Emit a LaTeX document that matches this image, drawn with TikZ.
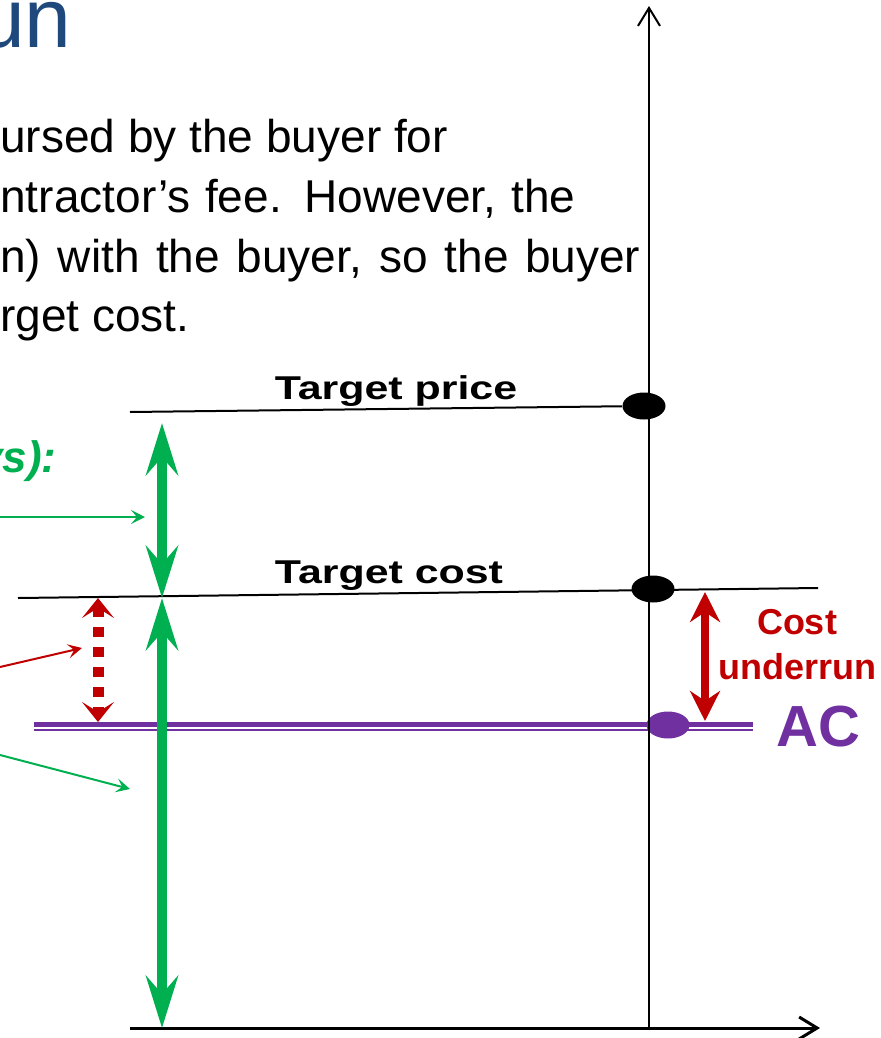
\documentclass[tikz,border=0pt]{standalone}
\usepackage{fontspec}
\setmainfont{Liberation Sans}
\usepackage{xcolor}
\usetikzlibrary{arrows.meta, shapes.geometric}
\definecolor{titleblue}{RGB}{31,73,125}
\definecolor{feegreen}{RGB}{0,176,80}
\definecolor{runred}{RGB}{192,0,0}
\definecolor{acpurple}{RGB}{112,48,160}

\begin{document}
\begin{tikzpicture}[
  x=0.5pt, y=-0.5pt,
  body/.style={anchor=base west, inner sep=0pt, font=\fontsize{23}{27}\selectfont},
  lvl/.style={anchor=base, inner sep=0pt, font=\bfseries\fontsize{16.5}{19}\selectfont},
  dot/.style={ellipse, fill=#1, minimum width=21.5pt, minimum height=13.5pt, inner sep=0pt},
  axis/.style={-{Straight Barb[length=9pt, width=11pt]}, line width=#1},
  level/.style={line width=1pt},
  big/.style={{Stealth[length=26pt, width=16pt, inset=9pt]}-{Stealth[length=26pt, width=16pt, inset=9pt]},
    draw=feegreen, line width=5pt},
  gap/.style={{Stealth[length=15pt, width=15pt, inset=5pt]}-{Stealth[length=15pt, width=15pt, inset=5pt]},
    draw=runred, line width=4pt},
  dotgap/.style={{Stealth[length=10pt, width=16pt, inset=5pt]}-{Stealth[length=10pt, width=16pt, inset=5pt]},
    draw=runred, line width=5.5pt, dash pattern=on 5pt off 5pt},
  ptr/.style={-{Stealth[length=7pt, width=7pt, inset=3pt]}, draw=#1, line width=1pt},
  acline/.style={draw=acpurple, line width=#1}
]
\useasboundingbox (0,0) rectangle (881,1038);
% title and body text
\node[anchor=base east, inner sep=0pt, text=titleblue, font=\fontsize{42}{48}\selectfont] (ttl) at (72,48) {un};
\node[body] (l1) at (0,152) {ursed by the buyer for};
\node[body] (l2) at (0,212) {\makebox[287.5pt][s]{ntractor’s fee. However, the}};
\node[body] (l3) at (0,272) {\makebox[320pt][s]{n) with the buyer, so the buyer}};
\node[body] (l4) at (0,331) {rget cost.};
\node[anchor=base east, inner sep=0pt, text=feegreen, font=\bfseries\itshape\fontsize{22}{26}\selectfont] (ys) at (57,472) {ys):};

% levels
\node[dot=black] (tp) at (644,406) {};
\node[dot=black] (tc) at (653,589) {};
\node[dot=acpurple] (ac) at (668,725) {};
\coordinate (tpL) at (130,412);
\coordinate (tcL) at (18,598);
\coordinate (tcR) at (818,588);
\coordinate (acL) at (34,724.5);
\coordinate (acR) at (753,724.5);
\draw[level] (tpL) -- (tp);
\draw[level] (tcL) -- (tcR);
\draw[acline=2.5pt] (acL) -- (acR);
\draw[acline=1pt] ([yshift=-2.75pt]acL) -- ([yshift=-2.75pt]acR);
\node[lvl] (tpl) at (396,399) {\scalebox{1.3}[1]{Target price}};
\node[lvl] (tcl) at (389,583) {\scalebox{1.3}[1]{Target cost}};

% axes
\coordinate (O) at (649,1029);
\coordinate (ytop) at (649,6);
\coordinate (xL) at (130,1028);
\coordinate (xR) at (820,1028);
\draw[axis=1pt] (O) -- (ytop);
\draw[axis=1.5pt] (xL) -- (xR);

% green fee / cost arrows
\coordinate (g1) at (162,423);
\coordinate (g2) at (162,598);
\coordinate (g3) at (162,1028);
\draw[big] (g1) -- (g2);
\draw[big] (g2) -- (g3);

% red gaps
\coordinate (r1) at (98,598);
\coordinate (r2) at (98,722);
\draw[dotgap] (r1) -- (r2);
\coordinate (u1) at (705,592);
\coordinate (u2) at (705,721);
\draw[gap] (u1) -- (u2);
\node[align=center, inner sep=0pt, text=runred, font=\bfseries\fontsize{18}{22.5}\selectfont] (cu) at (797,645) {Cost\\underrun};
\node[inner sep=0pt, text=acpurple, font=\bfseries\fontsize{29}{34}\selectfont] (acl) at (818,727) {AC};

% pointers from the left
\coordinate (p1s) at (0,517);
\coordinate (p1e) at (145,517);
\coordinate (p2s) at (0,667);
\coordinate (p2e) at (82,648);
\coordinate (p3s) at (0,755);
\coordinate (p3e) at (130,789);
\draw[ptr=feegreen] (p1s) -- (p1e);
\draw[ptr=runred] (p2s) -- (p2e);
\draw[ptr=feegreen] (p3s) -- (p3e);
\end{tikzpicture}
\end{document}
